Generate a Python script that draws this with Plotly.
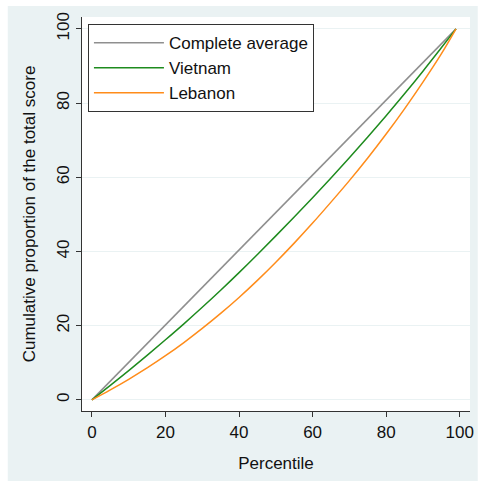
import plotly.graph_objects as go

percentile = [0, 5, 10, 15, 20, 25, 30, 35, 40, 45, 50, 55, 60, 65, 70, 75, 80, 85, 90, 95, 99]
complete_avg_x = [0, 99]
complete_avg_y = [0, 100]
vietnam = [0, 3.9, 7.9, 12.0, 16.2, 20.5, 24.95, 29.55, 34.3, 39.2, 44.2, 49.3, 54.5, 59.8, 65.25, 70.85, 76.6, 82.5, 88.6, 94.9, 100]
lebanon = [0, 2.7, 5.55, 8.6, 11.9, 15.45, 19.25, 23.3, 27.6, 32.2, 37.1, 42.25, 47.65, 53.3, 59.1, 65.2, 71.65, 78.45, 85.65, 93.25, 100]

x_ticks = [0, 20, 40, 60, 80, 100]
y_ticks = [0, 20, 40, 60, 80, 100]

BG = "#EAF2F3"
FONT = "Liberation Sans, Arial, sans-serif"

fig = go.Figure()
fig.add_trace(go.Scatter(x=complete_avg_x, y=complete_avg_y, mode="lines",
                         name="Complete average", line=dict(color="#8F8F8F", width=1.5)))
fig.add_trace(go.Scatter(x=percentile, y=vietnam, mode="lines", line_shape="spline",
                         name="Vietnam", line=dict(color="#1E8B1E", width=1.5)))
fig.add_trace(go.Scatter(x=percentile, y=lebanon, mode="lines", line_shape="spline",
                         name="Lebanon", line=dict(color="#FF8C1A", width=1.5)))

fig.update_layout(
    width=479, height=483,
    margin=dict(l=82, r=5, t=17, b=72),
    paper_bgcolor="white",
    plot_bgcolor="white",
    font=dict(family=FONT, size=17, color="#111111"),
    showlegend=True,
    legend=dict(x=0.0153, y=0.982, xanchor="left", yanchor="top",
                bgcolor="white", bordercolor="#333333", borderwidth=1,
                font=dict(size=17), itemwidth=70, tracegroupgap=0,
                entrywidth=150, entrywidthmode="pixels"),
    shapes=[
        dict(type="rect", xref="paper", yref="paper", x0=-0.1913, x1=1.02,
             y0=-0.1777, y1=1.0279, fillcolor=BG, line=dict(width=0), layer="below"),
        dict(type="rect", xref="paper", yref="paper", x0=0, x1=1,
             y0=0, y1=1, fillcolor="white", line=dict(width=0), layer="below"),
    ],
)

fig.update_xaxes(
    range=[-2.7, 102.8], tickvals=x_ticks, ticktext=[str(v) for v in x_ticks],
    showgrid=False, zeroline=False, showline=True, linecolor="#333333", linewidth=1.2,
    ticks="outside", ticklen=5, tickcolor="#333333", tickwidth=1.2,
    title=dict(text="Percentile", standoff=16, font=dict(size=17)),
)
fig.update_yaxes(
    range=[-3.0, 103.2], tickvals=y_ticks, ticktext=[str(v) for v in y_ticks],
    showgrid=True, gridcolor=BG, gridwidth=1.2, zeroline=False,
    showline=True, linecolor="#333333", linewidth=1.2,
    ticks="outside", ticklen=5, tickcolor="#333333", tickwidth=1.2, tickangle=-90,
    title=dict(text="Cumulative proportion of the total score", standoff=14, font=dict(size=17)),
)

fig.write_html("out.html")
